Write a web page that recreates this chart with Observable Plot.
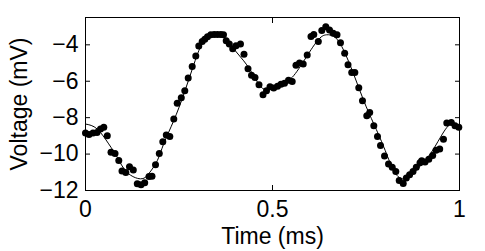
<!DOCTYPE html>
<html><head><meta charset="utf-8">
<script src="https://cdn.jsdelivr.net/npm/d3@7"></script>
<script src="https://cdn.jsdelivr.net/npm/@observablehq/plot@0.6"></script>
<style>body{margin:0;background:#fff}</style>
</head><body><div id="chart"></div>
<script>
const sampleTime = [0,.0094,.0201,.0307,.0401,.0489,.0583,.0682,.0789,.0890,.0976,.1078,.1176,.1278,.1385,.1484,.1583,.1698,.1778,.1872,.1973,.2067,.2160,.2254,.2361,.2452,.2561,.2655,.2746,.2853,.2949,.3029,.3120,.3190,.3262,.3350,.3441,.3529,.3618,.3690,.3762,.3845,.3936,.4024,.4144,.4238,.4345,.4439,.4532,.4639,.4746,.4840,.4933,.5032,.5134,.5227,.5321,.5428,.5527,.5628,.5722,.5821,.5928,.6029,.6104,.6225,.6318,.6425,.6524,.6623,.6725,.6818,.6930,.7019,.7118,.7201,.7307,.7406,.7521,.7599,.7709,.7807,.7888,.7995,.8102,.8201,.8297,.8388,.8495,.8578,.8666,.8757,.8845,.8944,.8989,.9078,.9179,.9283,.9372,.9471,.9572,.9660,.9781,.9880,.9981];
const sampleVoltage = [-8.84,-8.92,-8.84,-8.82,-8.62,-8.53,-8.99,-9.90,-9.97,-10.35,-10.93,-11.01,-10.70,-10.88,-11.63,-11.69,-11.57,-11.23,-11.22,-10.59,-9.97,-9.32,-8.95,-9.04,-8.07,-7.21,-6.90,-6.52,-5.82,-5.19,-4.62,-4.07,-3.82,-3.69,-3.56,-3.45,-3.44,-3.44,-3.44,-3.45,-3.78,-3.95,-4.21,-4.05,-3.96,-4.52,-5.32,-5.67,-5.79,-6.19,-6.74,-6.52,-6.30,-6.37,-6.27,-6.16,-6.11,-5.95,-6.01,-5.12,-5.00,-5.06,-4.56,-3.55,-3.44,-3.82,-3.21,-3.01,-3.18,-3.37,-3.45,-3.89,-4.47,-5.10,-5.52,-5.52,-6.36,-7.07,-7.89,-7.71,-8.44,-9.04,-9.53,-10.10,-10.54,-10.73,-10.95,-11.45,-11.62,-11.32,-11.13,-10.95,-10.72,-10.48,-10.36,-10.43,-10.29,-10.08,-9.79,-9.72,-9.19,-8.30,-8.26,-8.44,-8.53];
const fitTime = [0,.031,.062,.085,.111,.147,.169,.192,.209,.236,.263,.290,.316,.343,.370,.397,.423,.450,.477,.513,.548,.584,.620,.644,.668,.691,.717,.744,.771,.798,.824,.847,.869,.896,.922,.949,.976,1];
const fitVoltage = [-8.35,-8.62,-9.44,-10.18,-11.0,-11.36,-11.08,-10.36,-9.44,-8.16,-6.70,-5.06,-3.78,-3.45,-3.60,-4.24,-4.88,-5.70,-6.43,-6.25,-5.88,-4.88,-3.78,-3.45,-3.60,-4.33,-5.61,-7.07,-8.35,-9.63,-10.90,-11.36,-11.18,-10.63,-9.99,-9.08,-8.35,-8.47];
const xTicks = [0, 0.5, 1];
const yTicks = [-12, -10, -8, -6, -4];
const xLabel = "Time (ms)";
const yLabel = "Voltage (mV)";

const samples = sampleTime.map((t, i) => ({t, v: sampleVoltage[i]}));
const fit = fitTime.map((t, i) => ({t, v: fitVoltage[i]}));
const fmt = d3.format("");

const chart = Plot.plot({
  width: 485, height: 251,
  marginLeft: 85, marginRight: 26, marginTop: 17, marginBottom: 61,
  style: {fontFamily: "'Liberation Sans', Arial, sans-serif", fontSize: "23px", background: "white", color: "black"},
  x: {domain: [0, 1]},
  y: {domain: [-12, -2.5]},
  marks: [
    Plot.line(fit, {x: "t", y: "v", curve: "natural", stroke: "black", strokeWidth: 1}),
    Plot.dot(samples, {x: "t", y: "v", r: 3.5, fill: "black"}),
    Plot.frame({stroke: "black", strokeWidth: 1}),
    Plot.axisX({anchor: "bottom", ticks: xTicks, tickSize: -5, tickPadding: 15, tickFormat: fmt, label: xLabel, labelAnchor: "center", labelArrow: "none", labelOffset: 53}),
    Plot.axisX({anchor: "top", ticks: xTicks, tickSize: -5, tickFormat: () => "", label: null}),
    Plot.axisY({anchor: "left", ticks: yTicks, tickSize: -5, tickPadding: 12, tickFormat: fmt, label: yLabel, labelAnchor: "center", labelArrow: "none", labelOffset: 75}),
    Plot.axisY({anchor: "right", ticks: yTicks, tickSize: -5, tickFormat: () => "", label: null})
  ]
});
document.getElementById("chart").appendChild(chart);
</script>
</body></html>
